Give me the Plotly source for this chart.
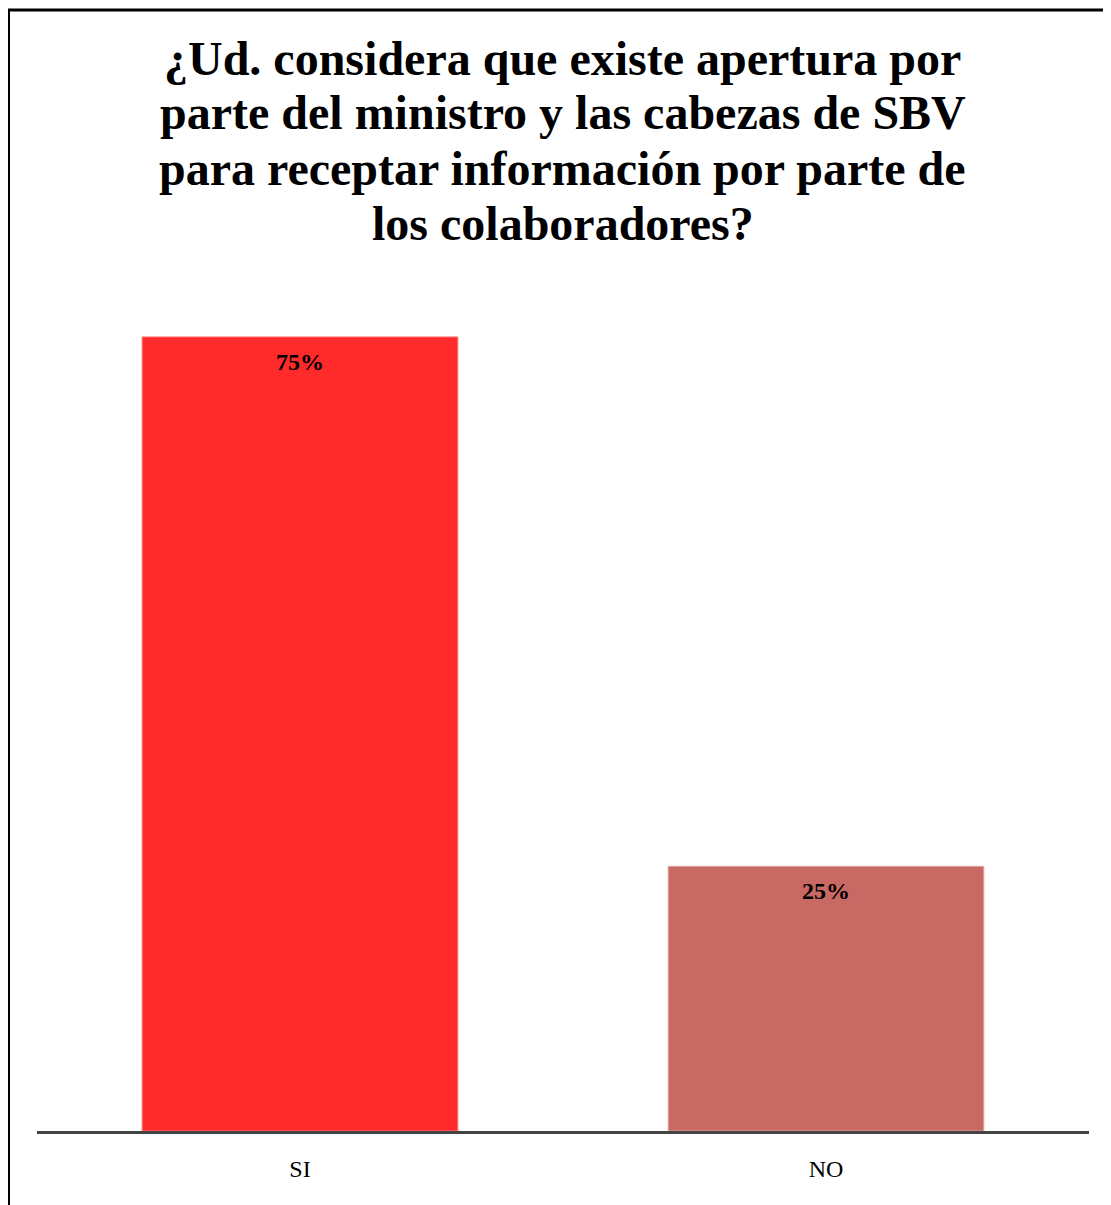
import plotly.graph_objects as go

categories = ["SI", "NO"]
values = [75, 25]
labels = ["75%", "25%"]
bar_colors = ["#FF2A2A", "#C86964"]
edge_colors = ["#FF7070", "#E3A3A3"]
title_lines = [
    "¿Ud. considera que existe apertura por",
    "parte del ministro y las cabezas de SBV",
    "para receptar información por parte de",
    "los colaboradores?",
]

W, H = 1103, 1197
L, R, T, B = 29, 22, 276, 74
pw, ph = W - L - R, H - T - B

def px_x(x):
    return (x - L) / pw

def px_y(y):
    return (H - B - y) / ph

fig = go.Figure()
fig.add_trace(go.Bar(
    x=categories, y=values,
    marker=dict(color=bar_colors, line=dict(color=edge_colors, width=1)),
    hoverinfo="skip",
))

for c, v, t in zip(categories, values, labels):
    fig.add_annotation(x=c, y=v, text="<b>" + t + "</b>", showarrow=False,
                       yanchor="top", yshift=-10,
                       font=dict(family="Liberation Serif", size=24, color="black"))

for i, line in enumerate(title_lines):
    fig.add_annotation(xref="paper", yref="paper", x=px_x(554.5), y=px_y(50 + 55 * i),
                       xanchor="center", yanchor="middle", showarrow=False,
                       text="<b>" + line + "</b>",
                       font=dict(family="Liberation Serif", size=48, color="black"))

fig.add_shape(type="line", xref="paper", yref="paper",
              x0=px_x(0), x1=px_x(1300), y0=px_y(2), y1=px_y(2),
              line=dict(color="black", width=3))
fig.add_shape(type="line", xref="paper", yref="paper",
              x0=px_x(0.5), x1=px_x(0.5), y0=px_y(2), y1=px_y(1300),
              line=dict(color="black", width=3))

fig.update_layout(
    width=W, height=H,
    margin=dict(l=L, r=R, t=T, b=B),
    paper_bgcolor="white", plot_bgcolor="white",
    bargap=0.4,
    showlegend=False,
    xaxis=dict(showline=True, linecolor="#444444", linewidth=3,
               showgrid=False, zeroline=False, ticks="",
               ticklabelstandoff=14,
               tickfont=dict(family="Liberation Serif", size=24, color="black")),
    yaxis=dict(visible=False, range=[0, 80], showgrid=False, zeroline=False),
)

fig.write_html("out.html")
